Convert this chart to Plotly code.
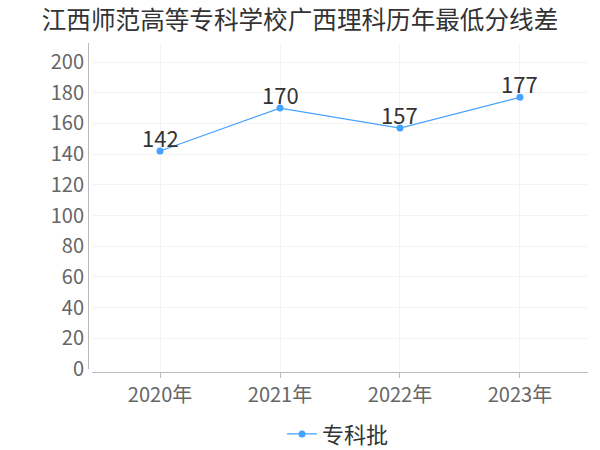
import plotly.graph_objects as go

years = ["2020年", "2021年", "2022年", "2023年"]
values = [142, 170, 157, 177]
series_name = "专科批"
title_text = "江西师范高等专科学校广西理科历年最低分线差"
y_ticks = [0, 20, 40, 60, 80, 100, 120, 140, 160, 180, 200]

font_family = "Noto Sans CJK SC, Noto Sans, sans-serif"
blue = "#45a2ff"

fig = go.Figure()
fig.add_trace(go.Scatter(
    x=years, y=values, name=series_name,
    mode="lines+markers",
    line=dict(color=blue, width=1.2),
    marker=dict(color=blue, size=7),
    cliponaxis=False,
))
for yr, v in zip(years, values):
    fig.add_annotation(
        x=yr, y=v, text=str(v), showarrow=False,
        xanchor="center", yanchor="middle", yshift=14,
        font=dict(size=22, color="#333333", family=font_family),
    )

fig.update_layout(
    width=600, height=450,
    margin=dict(l=88, r=12, t=43, b=78, autoexpand=False),
    paper_bgcolor="white", plot_bgcolor="white",
    title=dict(text=title_text, x=0.5, xanchor="center", y=0.955, yanchor="middle",
               font=dict(size=24.6, color="#333333", family=font_family)),
    showlegend=True,
    legend=dict(orientation="h", x=0.5, xanchor="center", y=-0.125, yanchor="top",
                itemwidth=30,
                font=dict(size=22, color="#333333", family=font_family)),
    font=dict(family=font_family),
)
fig.update_xaxes(
    domain=[4/500, 1], anchor="free", position=0,
    range=[-0.567, 3.567],
    automargin=False,
    showline=True, linecolor="#bbbbbb", linewidth=1,
    showgrid=True, gridcolor="#f3f3f3",
    ticks="outside", tickcolor="#bbbbbb", ticklen=5,
    tickfont=dict(size=20, color="#666666", family=font_family),
    zeroline=False,
)
fig.update_yaxes(
    domain=[3/329, 1], anchor="free", position=0,
    range=[0, 212.4],
    automargin=False,
    tickvals=y_ticks,
    showline=True, linecolor="#bbbbbb", linewidth=1,
    showgrid=True, gridcolor="#f3f3f3",
    ticks="", ticklen=3,
    tickfont=dict(size=20, color="#666666", family=font_family),
    zeroline=False,
)

fig.write_html("out.html", config={"displayModeBar": False},
               post_script="document.body.style.margin='0';")
